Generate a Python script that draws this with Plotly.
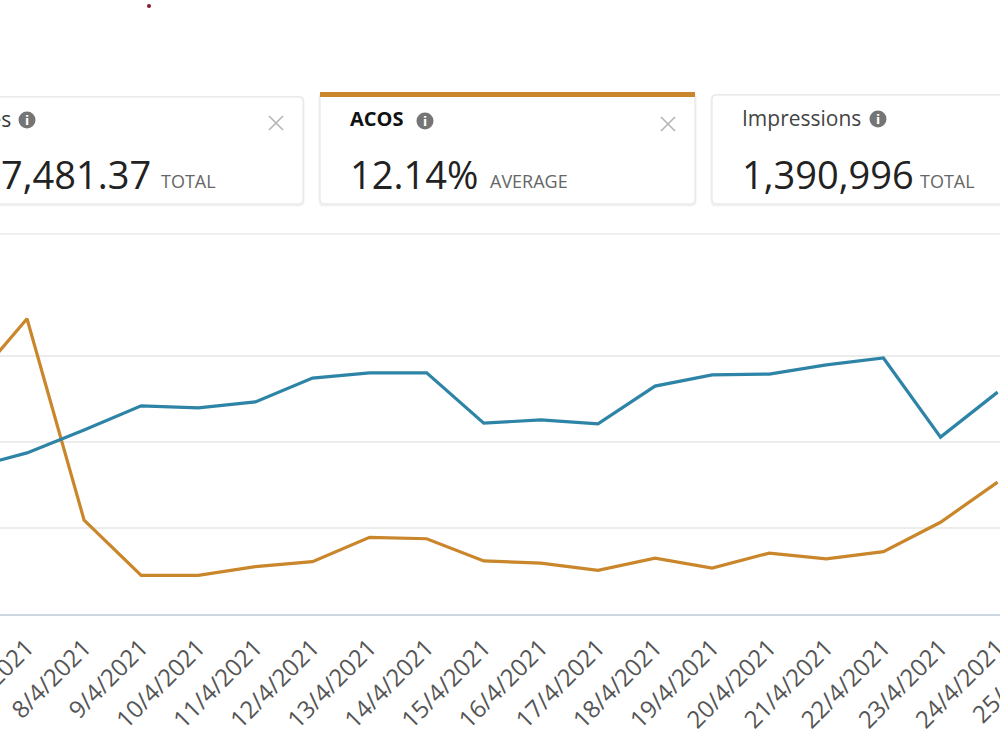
import plotly.graph_objects as go

# ---------------- data ----------------
dates = ["2021-04-06", "2021-04-07", "2021-04-08", "2021-04-09", "2021-04-10",
         "2021-04-11", "2021-04-12", "2021-04-13", "2021-04-14", "2021-04-15",
         "2021-04-16", "2021-04-17", "2021-04-18", "2021-04-19", "2021-04-20",
         "2021-04-21", "2021-04-22", "2021-04-23", "2021-04-24"]
acos_pct = [31.8, 41.2, 13.1, 5.4, 5.4, 6.6, 7.3, 10.7, 10.5, 7.4,
            7.1, 6.1, 7.8, 6.4, 8.5, 7.7, 8.7, 12.8, 18.4]
impressions = [50900, 56200, 64200, 72600, 71900, 74000, 82300, 84100, 84100, 66600,
               67700, 66300, 79500, 83400, 83700, 86900, 89300, 61700, 77400]

card_sales_label = "Sales"
card_sales_value = "7,481.37"
card_acos_label = "ACOS"
card_acos_value = "12.14%"
card_impr_label = "Impressions"
card_impr_value = "1,390,996"
next_tick_label = "25/4/2021"

ORANGE = "#c9862b"
BLUE = "#2e84a6"
FONT = "Open Sans"

W, H = 1000, 750
TOP, BOT = 270, 614


def PX(x):
    return x / W


def PY(y):
    return (BOT - y) / (BOT - TOP)


fig = go.Figure()
fig.add_trace(go.Scatter(x=dates, y=acos_pct, mode="lines", name="ACOS",
                         line=dict(color=ORANGE, width=3.2), yaxis="y"))
fig.add_trace(go.Scatter(x=dates, y=impressions, mode="lines", name="Impressions",
                         line=dict(color=BLUE, width=3.2), yaxis="y2"))

shapes = []


def rrect(x0, y0, x1, y1, r=4):
    p = (f"M {PX(x0 + r)} {PY(y0)} L {PX(x1 - r)} {PY(y0)} Q {PX(x1)} {PY(y0)} {PX(x1)} {PY(y0 + r)} "
         f"L {PX(x1)} {PY(y1 - r)} Q {PX(x1)} {PY(y1)} {PX(x1 - r)} {PY(y1)} "
         f"L {PX(x0 + r)} {PY(y1)} Q {PX(x0)} {PY(y1)} {PX(x0)} {PY(y1 - r)} "
         f"L {PX(x0)} {PY(y0 + r)} Q {PX(x0)} {PY(y0)} {PX(x0 + r)} {PY(y0)} Z")
    return p


cards = [(-20, 97, 303, 204), (320, 93, 695, 204), (712, 95, 1030, 204)]
for (x0, y0, x1, y1) in cards:
    shapes.append(dict(type="path", xref="paper", yref="paper", layer="below",
                       path=rrect(x0 - 1.5, y0 - 1, x1 + 1.5, y1 + 2.5, 5),
                       fillcolor="rgba(0,0,0,0.05)", line=dict(width=0)))
    shapes.append(dict(type="path", xref="paper", yref="paper", layer="below",
                       path=rrect(x0, y0, x1, y1, 4),
                       fillcolor="white", line=dict(color="#e4e4e4", width=1)))

shapes.append(dict(type="rect", xref="paper", yref="paper", layer="above",
                   x0=PX(320), x1=PX(695), y0=PY(97), y1=PY(92),
                   fillcolor=ORANGE, line=dict(width=0)))

shapes.append(dict(type="line", xref="paper", yref="paper", layer="below",
                   x0=0, x1=1, y0=PY(234), y1=PY(234),
                   line=dict(color="#ebebeb", width=1.5)))

for (cx, cy) in [(276, 123), (668, 124)]:
    s = 7
    for (a, b, c, d) in [(cx - s, cy - s, cx + s, cy + s), (cx + s, cy - s, cx - s, cy + s)]:
        shapes.append(dict(type="line", xref="paper", yref="paper",
                           x0=PX(a), y0=PY(b), x1=PX(c), y1=PY(d),
                           line=dict(color="#b5b5b5", width=1.6)))

info_pos = [(27, 120), (425, 121), (878, 119)]
for (cx, cy) in info_pos:
    r = 8.5
    shapes.append(dict(type="circle", xref="paper", yref="paper",
                       x0=PX(cx - r), x1=PX(cx + r), y0=PY(cy - r), y1=PY(cy + r),
                       fillcolor="#757575", line=dict(width=0)))

shapes.append(dict(type="circle", xref="paper", yref="paper",
                   x0=PX(147), x1=PX(151), y0=PY(4), y1=PY(8),
                   fillcolor="#8a1a30", line=dict(width=0)))

annotations = []


def txt(text, x, y, size, color, xanchor="left", bold=False, family=FONT, angle=0, yanchor="middle"):
    annotations.append(dict(text=f"<b>{text}</b>" if bold else text,
                            x=PX(x), y=PY(y), xref="paper", yref="paper",
                            xanchor=xanchor, yanchor=yanchor, showarrow=False,
                            textangle=angle,
                            font=dict(size=size, color=color, family=family)))


txt(card_sales_label, 13, 119, 21, "#3a3a3a", xanchor="right")
txt(card_sales_value, -1, 174, 38, "#222222")
txt("TOTAL", 159, 181, 18, "#666666")

txt(card_acos_label, 348, 118, 20, "#111111", bold=True)
txt(card_acos_value, 348, 174, 38, "#222222")
txt("AVERAGE", 488, 181, 18, "#666666")

txt(card_impr_label, 740, 118, 21, "#444444")
txt(card_impr_value, 740, 174, 38, "#222222")
txt("TOTAL", 918, 181, 18, "#666666")

for (cx, cy) in info_pos:
    txt("i", cx, cy + 0.5, 12, "white", xanchor="center", bold=True, family="DejaVu Sans")

# label of the next (off-range) day, clipped by the right edge like the source
txt(next_tick_label, 1016, 677, 24, "#555555", xanchor="center", angle=-45, yanchor="middle")

fig.update_layout(
    width=W, height=H, autosize=False,
    margin=dict(l=0, r=0, t=TOP, b=H - BOT, pad=0, autoexpand=False),
    paper_bgcolor="white", plot_bgcolor="white",
    showlegend=False,
    shapes=shapes, annotations=annotations,
    font=dict(family=FONT),
    xaxis=dict(type="date", range=["2021-04-06 12:39", "2021-04-24 01:00"],
               dtick=86400000, tick0="2021-04-07", tickformat="%-d/%-m/%Y",
               tickangle=-45, tickfont=dict(size=24, color="#555555", family=FONT),
               showgrid=False, showline=True, linecolor="#cdd6de", linewidth=2,
               ticks="", ticklabelstandoff=8, ticklabeloverflow="allow",
               automargin=False, zeroline=False, fixedrange=True),
    yaxis=dict(range=[0, 48], dtick=12, showticklabels=False, showgrid=True,
               gridcolor="#ececec", gridwidth=1.5, zeroline=False, ticks="",
               automargin=False, fixedrange=True),
    yaxis2=dict(range=[0, 120000], overlaying="y", side="right", showgrid=False,
                showticklabels=False, zeroline=False, ticks="",
                automargin=False, fixedrange=True),
)

fig.write_html("out.html", config={"displayModeBar": False})
